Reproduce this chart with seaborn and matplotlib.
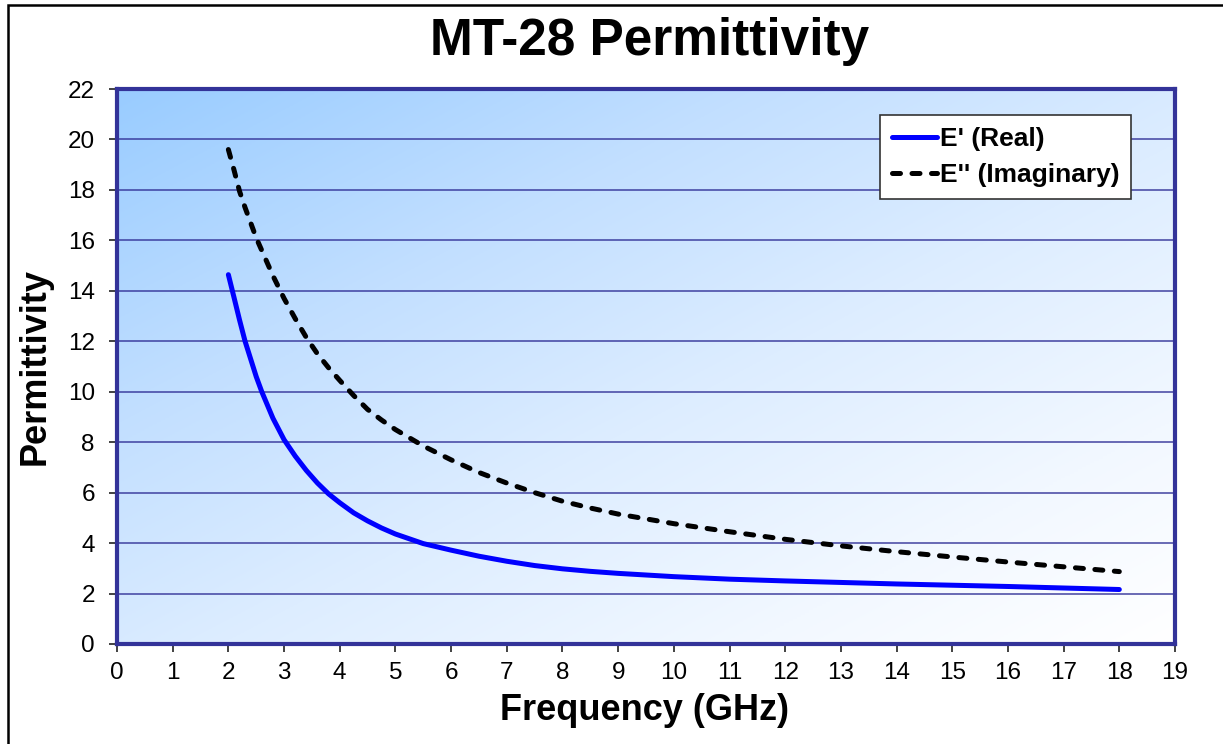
import numpy as np
import pandas as pd
import matplotlib
matplotlib.use("Agg")
import matplotlib.pyplot as plt
import seaborn as sns
from matplotlib.colors import LinearSegmentedColormap
from matplotlib.patches import Rectangle

# ---- data ----
freq_ghz = [2.0, 2.1, 2.2, 2.3, 2.4, 2.5, 2.6, 2.8, 3.0, 3.2, 3.4, 3.6, 3.8, 4.0,
            4.25, 4.5, 4.75, 5.0, 5.5, 6.0, 6.5, 7.0, 7.5, 8.0, 8.5, 9.0, 10.0,
            11.0, 12.0, 13.0, 14.0, 15.0, 16.0, 17.0, 18.0]
e_real = [14.64, 13.75, 12.85, 12.0, 11.3, 10.6, 10.0, 8.95, 8.1, 7.45, 6.88, 6.38, 5.95, 5.6,
          5.2, 4.88, 4.6, 4.36, 3.98, 3.72, 3.48, 3.28, 3.11, 2.98, 2.88, 2.8, 2.67,
          2.57, 2.5, 2.44, 2.38, 2.33, 2.28, 2.22, 2.16]
e_imag = [19.6, 18.8, 17.95, 17.3, 16.7, 16.1, 15.6, 14.6, 13.7, 12.9, 12.15, 11.5, 10.95, 10.45,
          9.85, 9.3, 8.88, 8.5, 7.85, 7.3, 6.8, 6.38, 6.0, 5.66, 5.39, 5.15, 4.77,
          4.45, 4.15, 3.89, 3.66, 3.45, 3.25, 3.06, 2.87]
series_names = ["E' (Real)", "E'' (Imaginary)"]
x_ticks = list(range(0, 20))
y_ticks = list(range(0, 23, 2))

df = pd.DataFrame({"freq": freq_ghz, "real": e_real, "imag": e_imag})

plt.rcParams['font.family'] = ['Liberation Sans', 'DejaVu Sans']

W, H = 1223, 744
fig = plt.figure(figsize=(W / 100, H / 100), dpi=100)
fig.patch.set_facecolor("white")
ax = fig.add_axes([117 / W, 1 - 644 / H, (1175 - 117) / W, (644 - 89) / H])

# figure border (left and top visible)
fig.patches.append(Rectangle((8 / W, -0.1), 1.2, 1 - 5 / H + 0.1,
                             transform=fig.transFigure, fill=False,
                             edgecolor="black", linewidth=1.8, zorder=0))

# gradient background in plot area: blue top-left -> white bottom-right
n = 256
gx, gy = np.meshgrid(np.linspace(0, 1, n), np.linspace(0, 1, n))
t = np.clip((gx + gy) / 2.0, 0, 1)
cmap = LinearSegmentedColormap.from_list(
    "bg", [(0.0, "#99CCFF"), (0.3, "#C2DFFF"), (0.55, "#DDEDFF"), (0.8, "#F2F8FF"), (1.0, "#FFFFFF")])
ax.imshow(t, cmap=cmap, extent=[0, 1, 0, 1], transform=ax.transAxes,
          aspect="auto", origin="upper", zorder=0, interpolation="bilinear")

navy = "#333399"
for yv in y_ticks[1:-1]:
    ax.axhline(yv, color=navy, linewidth=1.2, alpha=0.85, zorder=1)

sns.lineplot(data=df, x="freq", y="real", ax=ax, color="#0000FF", linewidth=3.6,
             label=series_names[0], zorder=3, solid_capstyle="round")
sns.lineplot(data=df, x="freq", y="imag", ax=ax, color="black", linewidth=3.6,
             label=series_names[1], zorder=3)
ax.lines[-1].set_dashes((1.6, 2.3))
ax.lines[-1].set_dash_capstyle("round")

ax.set_xlim(0, 19)
ax.set_ylim(0, 22)
ax.set_xticks(x_ticks)
ax.set_yticks(y_ticks)
ax.tick_params(axis="both", direction="out", length=6, width=1.2, color="#222222",
               labelsize=17.5, labelcolor="black")
ax.tick_params(axis="y", pad=10)
ax.tick_params(axis="x", pad=7)
for sp in ax.spines.values():
    sp.set_color(navy)
    sp.set_linewidth(3.0)
    sp.set_zorder(4)

ax.set_xlabel("Frequency (GHz)", fontsize=26, fontweight="bold")
ax.xaxis.label.set_va("center")
ax.xaxis.set_label_coords((645 - 117) / 1058, (644 - 711) / 555)
ax.set_ylabel("Permittivity", fontsize=26, fontweight="bold")
ax.yaxis.label.set_va("center")
ax.yaxis.label.set_ha("center")
ax.yaxis.set_label_coords((35 - 117) / 1058, 0.5)

fig.text(650 / W, 1 - 42 / H, "MT-28 Permittivity",
         ha="center", va="center", fontsize=37, fontweight="bold")

leg = ax.legend(loc="upper right", bbox_to_anchor=((1131 - 117) / 1058, (644 - 115) / 555),
                frameon=True, fancybox=False, fontsize=19, handlelength=1.7,
                handletextpad=0.1, borderpad=0.45, borderaxespad=0,
                labelspacing=0.45)
for txt in leg.get_texts():
    txt.set_fontweight("bold")
leg.get_frame().set_edgecolor("#333333")
leg.get_frame().set_linewidth(1.2)
leg.get_frame().set_facecolor("white")
leg.get_frame().set_alpha(1)
leg.set_zorder(5)

fig.savefig("out.png", dpi=100)
